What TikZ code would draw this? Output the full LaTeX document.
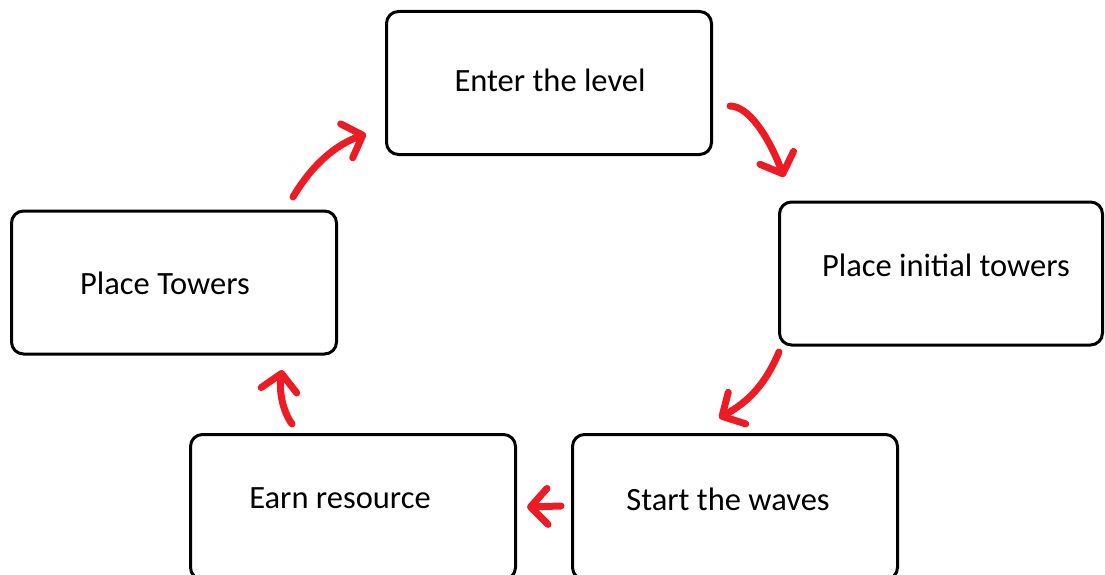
\documentclass[tikz,border=0pt]{standalone}
\usepackage{fontspec}
\setmainfont{Carlito}
\usetikzlibrary{arrows.meta}
\definecolor{arrred}{HTML}{ED1C24}
\tikzset{
  box/.style={draw=black, line width=3pt, rounded corners=12pt, minimum width=325pt, minimum height=143pt, inner sep=0pt},
  lbl/.style={font=\fontsize{32.5}{38}\selectfont, inner sep=0pt},
  redarr/.style={draw=arrred, line width=7pt, line cap=round, line join=round,
    -{Straight Barb[length=17pt, width=36pt, line cap=round, line join=round]}},
}
\begin{document}
\begin{tikzpicture}[x=1pt, y=-1pt]
\useasboundingbox (0,0) rectangle (1105,575);
\clip (0,0) rectangle (1105,575);
\node[box] (enter) at (549,83) {};
\node[box, minimum width=323pt] (initial) at (941,273.5) {};
\node[box, minimum height=145pt] (start) at (735,507) {};
\node[box, minimum height=145pt] (earn) at (353,507) {};
\node[box] (towers) at (174,282.5) {};
\node[lbl] (tenter) at (550,80) {Enter the level};
\node[lbl] (tinitial) at (946,265) {Place initial towers};
\node[lbl] (tstart) at (728,499) {Start the waves};
\node[lbl] (tearn) at (340,498) {Earn resource};
\node[lbl] (ttowers) at (165,283) {Place Towers};
\coordinate (a1s) at (293,197);
\coordinate (a1e) at (366,134);
\coordinate (a2s) at (730,106);
\coordinate (a2e) at (784,177);
\coordinate (a3s) at (779,352);
\coordinate (a3e) at (719,418);
\coordinate (a4s) at (561,506);
\coordinate (a4e) at (527,507);
\coordinate (a5s) at (292,424);
\coordinate (a5e) at (282,370);
\draw[redarr] (a1s) .. controls (312,165) and (335,145) .. (a1e);
\draw[redarr] (a2s) .. controls (748,106) and (768,135) .. (a2e);
\draw[redarr] (a3s) .. controls (765,385) and (748,402) .. (a3e);
\draw[redarr] (a4s) -- (a4e);
\draw[redarr] (a5s) .. controls (282,410) and (279,390) .. (a5e);
\end{tikzpicture}
\end{document}
